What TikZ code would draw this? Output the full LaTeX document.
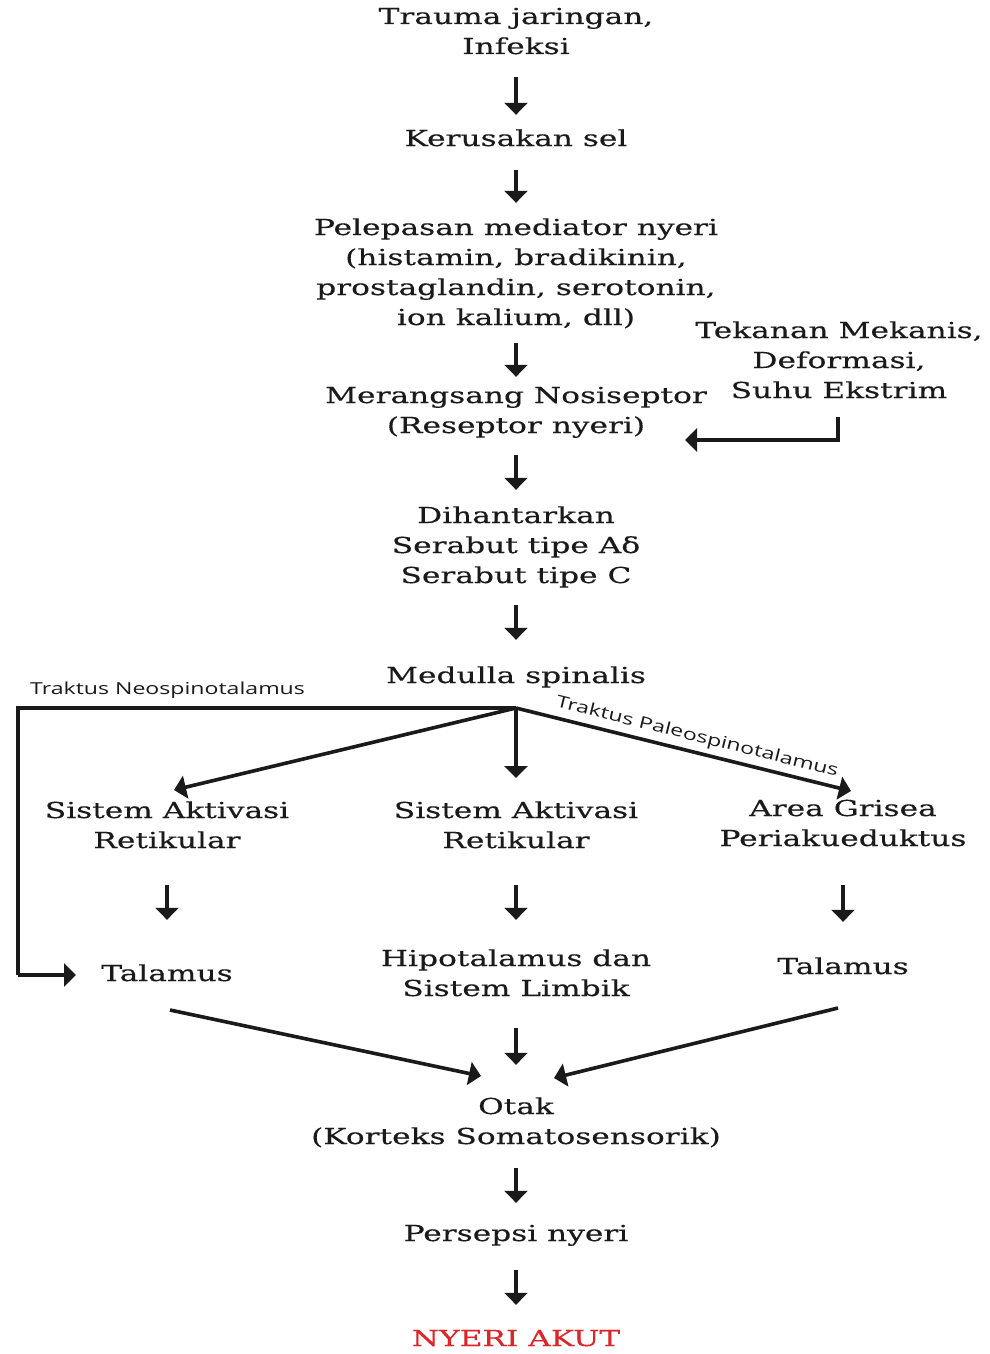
\documentclass[tikz,border=0pt]{standalone}
\usepackage{fontspec}
\setmainfont{DejaVu Serif}[FakeStretch=1.42, FakeBold=0.3]
\newfontfamily\labfont{Open Sans}[FakeStretch=1.4]
\usetikzlibrary{arrows.meta,calc}
\definecolor{ink}{HTML}{1A1A1A}
\definecolor{redink}{HTML}{D8262A}
\tikzset{
  txt/.style={inner sep=0pt, align=center, text=ink, font=\fontsize{22}{30}\selectfont},
  lab/.style={inner sep=0pt, text=ink, font=\labfont\fontsize{16.5}{18}\selectfont},
  arr/.style={draw=ink, line width=3.6pt, -{Triangle[width=23pt,length=12pt]}},
  ln/.style={draw=ink, line width=3.6pt},
}
\newcommand\s{\strut}
\begin{document}
\begin{tikzpicture}[x=1pt,y=-1pt]
\useasboundingbox[fill=white] (0,0) rectangle (990,1354);
% nodes
\node[txt] (trauma) at (516,33) {\s Trauma jaringan,\\\s Infeksi};
\node[txt] (kerus) at (516,140) {\s Kerusakan sel};
\node[txt] (pelep) at (516,274) {\s Pelepasan mediator nyeri\\\s (histamin, bradikinin,\\\s prostaglandin, serotonin,\\\s ion kalium, dll)};
\node[txt] (meran) at (516,412) {\s Merangsang Nosiseptor\\\s (Reseptor nyeri)};
\node[txt] (tekan) at (839,362) {\s Tekanan Mekanis,\\\s Deformasi,\\\s Suhu Ekstrim};
\node[txt] (dihan) at (516,547) {\s Dihantarkan\\\s Serabut tipe Aδ\\\s Serabut tipe C};
\node[txt] (medul) at (516,677) {\s Medulla spinalis};
\node[txt] (sasL) at (167,827) {\s Sistem Aktivasi\\\s Retikular};
\node[txt] (sasM) at (516,827) {\s Sistem Aktivasi\\\s Retikular};
\node[txt] (area) at (843,825) {\s Area Grisea\\\s Periakueduktus};
\node[txt] (talL) at (167,975) {\s Talamus};
\node[txt] (hipo) at (516,975) {\s Hipotalamus dan\\\s Sistem Limbik};
\node[txt] (talR) at (843,968) {\s Talamus};
\node[txt] (otak) at (516,1123) {\s Otak\\\s (Korteks Somatosensorik)};
\node[txt] (persp) at (516,1235) {\s Persepsi nyeri};
\node[txt, text=redink] (nyeri) at (516,1340) {\s NYERI AKUT};
\node[lab, anchor=west] (neo) at (30,690) {Traktus Neospinotalamus};
% coordinates
\coordinate (j) at (516,708);
\coordinate (tekA) at (838,417);
\coordinate (tekB) at (685,440);
\coordinate (nl1) at (18,708);
\coordinate (nl2) at (18,975);
\coordinate (nl3) at (76,975);
\coordinate (sasLtip) at (174,790);
\coordinate (areatip) at (851,791);
\coordinate (midtip) at (516,778);
\coordinate (tLs) at (170,1010);
\coordinate (tLe) at (481,1076);
\coordinate (tRs) at (838,1008);
\coordinate (tRe) at (554,1078);
% arrows
\draw[arr, shorten <=14pt, shorten >=10pt] (trauma.south) -- (kerus.north);
\draw[arr, shorten <=15pt, shorten >=11pt] (kerus.south) -- (pelep.north);
\draw[arr, shorten <=9pt, shorten >=5pt] (pelep.south) -- (meran.north);
\draw[arr, shorten <=13pt, shorten >=12pt] (meran.south) -- (dihan.north);
\draw[arr, shorten <=13pt, shorten >=22pt] (dihan.south) -- (medul.north);
\draw[arr] (tekA) |- (tekB);
\draw[ln] (j) -- (nl1) -- (nl2);
\draw[arr] (nl2) -- (nl3);
\draw[arr] (j) -- (sasLtip);
\draw[arr] (j) -- (midtip);
\draw[arr] (j) -- node[lab, sloped, above=5pt, pos=0.53] {Traktus Paleospinotalamus} (areatip);
\draw[arr, shorten <=28pt, shorten >=40pt] (sasL.south) -- (talL.north);
\draw[arr, shorten <=28pt, shorten >=25pt] (sasM.south) -- (hipo.north);
\draw[arr, shorten <=30pt, shorten >=31pt] (area.south) -- (talR.north);
\draw[arr, shorten <=23pt, shorten >=28pt] (hipo.south) -- (otak.north);
\draw[arr] (tLs) -- (tLe);
\draw[arr] (tRs) -- (tRe);
\draw[arr, shorten <=15pt, shorten >=17pt] (otak.south) -- (persp.north);
\draw[arr, shorten <=20pt, shorten >=20pt] (persp.south) -- (nyeri.north);
\end{tikzpicture}
\end{document}
